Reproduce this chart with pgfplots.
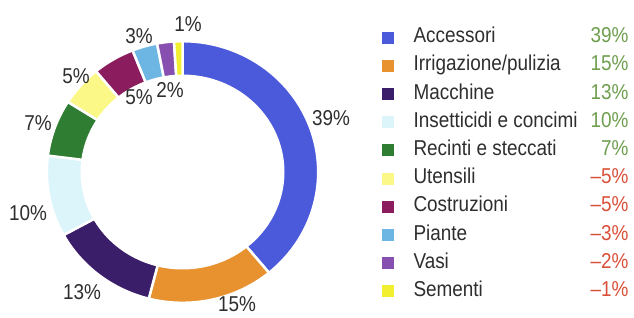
\documentclass[border=0pt]{standalone}
\usepackage{pgfplots}
\pgfplotsset{compat=1.18}
\usepackage{pgfplotstable}
\usepackage{fontspec}
\setmainfont{Liberation Sans}[FakeStretch=0.88]
\definecolor{cA}{HTML}{4A5ADA}
\definecolor{cB}{HTML}{E8922F}
\definecolor{cC}{HTML}{3B1E69}
\definecolor{cD}{HTML}{DCF5FA}
\definecolor{cE}{HTML}{2F7D32}
\definecolor{cF}{HTML}{FCF888}
\definecolor{cG}{HTML}{8B1D5E}
\definecolor{cH}{HTML}{6DB6E4}
\definecolor{cI}{HTML}{8750B0}
\definecolor{cJ}{HTML}{F2EE30}
\definecolor{pos}{HTML}{6E9E4E}
\definecolor{neg}{HTML}{D9503A}
\definecolor{txt}{HTML}{2E2E2E}

\pgfplotstableread[col sep=comma]{
name,value,change,color
Accessori,39,39,cA
Irrigazione,15,15,cB
Macchine,13,13,cC
Insetticidi,10,10,cD
Recinti,7,7,cE
Utensili,5,-5,cF
Costruzioni,5,-5,cG
Piante,3,-3,cH
Vasi,2,-2,cI
Sementi,1,-1,cJ
}\slices

\begin{document}
\begin{tikzpicture}[font=\fontsize{21.5}{25}\selectfont, text=txt]
\begin{axis}[x=1pt,y=1pt,xmin=0,xmax=634,ymin=0,ymax=317,hide axis,clip=false]
\def\cum{0}
\pgfplotsforeachungrouped \i in {0,...,9}{%
  \pgfplotstablegetelem{\i}{value}\of\slices
  \let\v\pgfplotsretval
  \pgfplotstablegetelem{\i}{color}\of\slices
  \let\col\pgfplotsretval
  \pgfmathsetmacro\aStart{90-3.6*\cum}%
  \pgfmathsetmacro\cum{\cum+\v}%
  \pgfmathsetmacro\aEnd{90-3.6*\cum}%
  \pgfmathsetmacro\ly{279.5-28.2*\i}%
  \edef\cmd{\noexpand\addplot[fill=\col, draw=white, line width=2.5pt, line join=round, domain=\aEnd:\aStart, samples=60] ({182.5+135.7*cos(x)},{145+130.8*sin(x)}) -- (axis cs:182.5,145) -- cycle;
  \noexpand\addplot[only marks, draw=\col, fill=\col, mark=square*, mark size=5.5pt, mark options={draw=\col, fill=\col, line width=0pt}] coordinates {(388,\ly)};}%
  \cmd
}
\addplot[fill=white, draw=none, domain=0:360, samples=150] ({182.5+102*cos(x)},{145+97.5*sin(x)}) -- cycle;

% slice labels
\node at (axis cs:331,199) {39\%};
\node at (axis cs:237,13) {15\%};
\node at (axis cs:82,25) {13\%};
\node at (axis cs:28,104) {10\%};
\node at (axis cs:38,194) {7\%};
\node at (axis cs:76,241) {5\%};
\node at (axis cs:139,220) {5\%};
\node at (axis cs:139,281) {3\%};
\node at (axis cs:170,227) {2\%};
\node at (axis cs:188,293) {1\%};

% legend texts
\node[anchor=base west] at (axis cs:410,274.3) {Accessori};
\node[anchor=base west] at (axis cs:410,246.1) {Irrigazione/pulizia};
\node[anchor=base west] at (axis cs:410,217.9) {Macchine};
\node[anchor=base west] at (axis cs:410,189.7) {Insetticidi e concimi};
\node[anchor=base west] at (axis cs:410,161.5) {Recinti e steccati};
\node[anchor=base west] at (axis cs:410,133.3) {Utensili};
\node[anchor=base west] at (axis cs:410,105.1) {Costruzioni};
\node[anchor=base west] at (axis cs:410,76.9) {Piante};
\node[anchor=base west] at (axis cs:410,48.7) {Vasi};
\node[anchor=base west] at (axis cs:410,20.5) {Sementi};

\node[anchor=base east, text=pos] at (axis cs:632,274.3) {39\%};
\node[anchor=base east, text=pos] at (axis cs:632,246.1) {15\%};
\node[anchor=base east, text=pos] at (axis cs:632,217.9) {13\%};
\node[anchor=base east, text=pos] at (axis cs:632,189.7) {10\%};
\node[anchor=base east, text=pos] at (axis cs:632,161.5) {7\%};
\node[anchor=base east, text=neg] at (axis cs:632,133.3) {\textendash5\%};
\node[anchor=base east, text=neg] at (axis cs:632,105.1) {\textendash5\%};
\node[anchor=base east, text=neg] at (axis cs:632,76.9) {\textendash3\%};
\node[anchor=base east, text=neg] at (axis cs:632,48.7) {\textendash2\%};
\node[anchor=base east, text=neg] at (axis cs:632,20.5) {\textendash1\%};
\end{axis}
\pgfresetboundingbox
\useasboundingbox (current axis.south west) rectangle (current axis.north east);
\end{tikzpicture}
\end{document}
